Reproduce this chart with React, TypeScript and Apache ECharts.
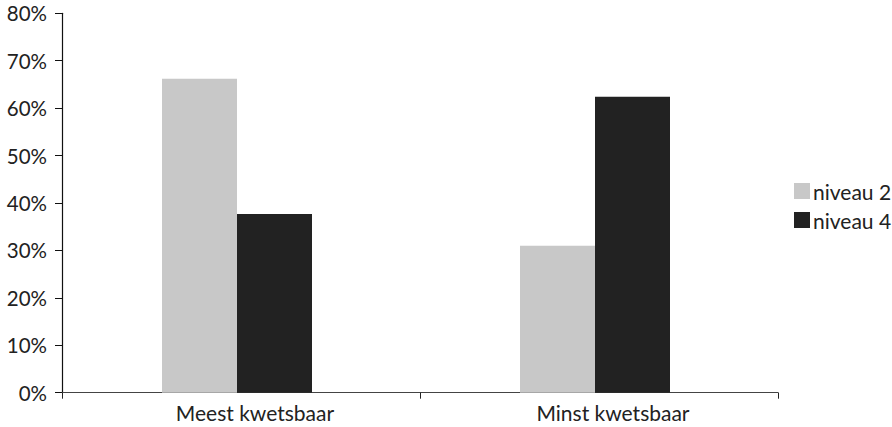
import React, { useEffect, useRef } from "react";
import * as echarts from "echarts";

const categories = ["Meest kwetsbaar", "Minst kwetsbaar"];
const niveau2 = [66.2, 31.0];
const niveau4 = [37.7, 62.4];
const seriesNames = ["niveau 2", "niveau 4"];
const spacer: (number | null)[] = [null, null];

export default function App() {
  const ref = useRef<HTMLDivElement>(null);
  useEffect(() => {
    if (!ref.current) return;
    const chart = echarts.init(ref.current, null, { renderer: "svg" });
    const font = "Lato, sans-serif";
    const fs = 21;
    chart.setOption({
      animation: false,
      textStyle: { fontFamily: font },
      grid: { left: 62, right: 114, top: 13.3, bottom: 34.3, containLabel: false },
      legend: {
        orient: "vertical",
        left: 789,
        top: 175.5,
        itemWidth: 16,
        itemHeight: 16,
        itemGap: 8,
        icon: "rect",
        data: seriesNames,
        textStyle: { fontFamily: font, fontSize: fs, color: "#222", padding: [0, 0, 0, -2] },
      },
      xAxis: {
        type: "category",
        data: categories,
        axisLine: { lineStyle: { color: "#444", width: 1.2 } },
        axisTick: { show: true, length: 6, lineStyle: { color: "#222" } },
        axisLabel: { fontFamily: font, fontSize: fs, color: "#222", margin: 9, padding: [0, 0, 0, 28] },
      },
      yAxis: {
        type: "value",
        min: 0,
        max: 80,
        interval: 10,
        splitLine: { show: false },
        axisLine: { show: true, lineStyle: { color: "#111", width: 1.2 } },
        axisTick: { show: true, length: 7, lineStyle: { color: "#111" } },
        axisLabel: { fontFamily: font, fontSize: 20.5, color: "#222", margin: 15, formatter: "{value}%" },
      },
      series: [
        {
          name: seriesNames[0],
          type: "bar",
          data: niveau2,
          barWidth: 75,
          barGap: "0%",
          itemStyle: { color: "#c8c8c8" },
        },
        {
          name: seriesNames[1],
          type: "bar",
          data: niveau4,
          barWidth: 75,
          barGap: "0%",
          itemStyle: { color: "#222222" },
        },
        {
          name: "spacer",
          type: "bar",
          data: spacer,
          barWidth: 8,
          barGap: "0%",
          silent: true,
          itemStyle: { color: "transparent" },
        },
      ],
    });
    return () => chart.dispose();
  }, []);
  return <div ref={ref} style={{ width: 892, height: 427, position: "absolute", left: 0, top: 0 }} />;
}
